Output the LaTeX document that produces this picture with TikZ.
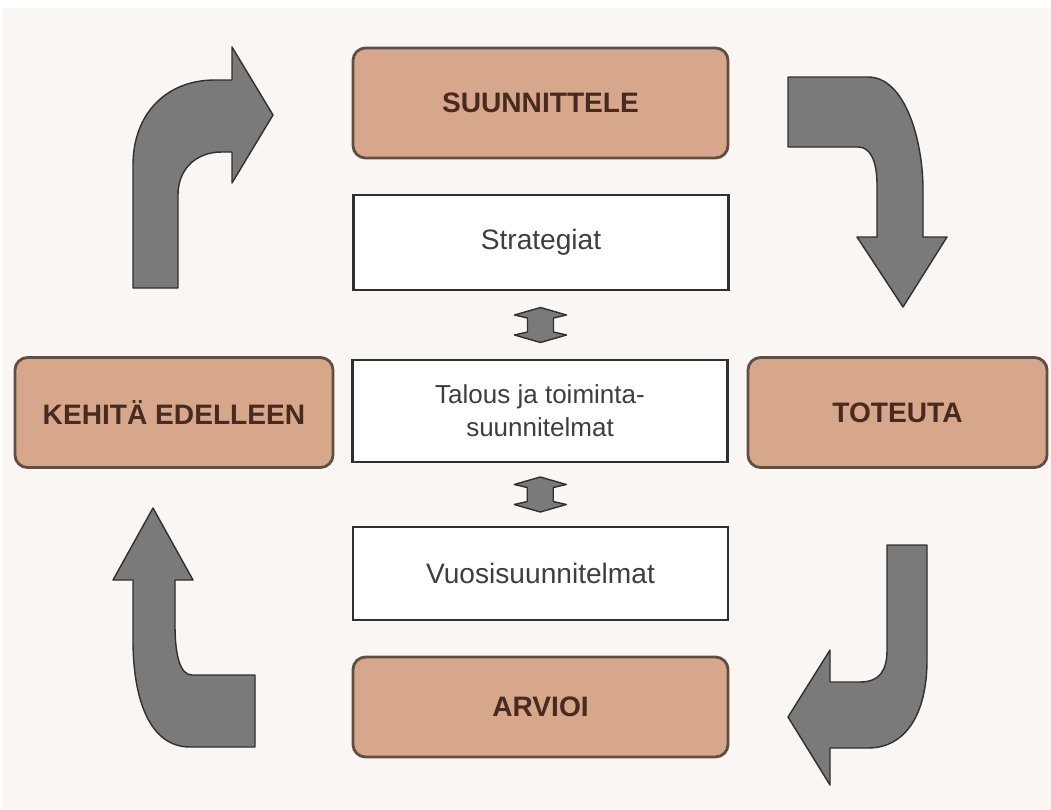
\documentclass[tikz,border=0pt]{standalone}
\usepackage{fontspec}
\setmainfont{Liberation Sans}
\usepackage{tikz}
\usetikzlibrary{calc, positioning}
\usepackage{xcolor}
\definecolor{paper}{RGB}{250,246,243}
\definecolor{tan}{RGB}{214,167,139}
\definecolor{tanline}{RGB}{95,78,68}
\definecolor{darktext}{RGB}{72,42,32}
\definecolor{greytext}{RGB}{62,62,62}
\definecolor{arrowfill}{RGB}{122,122,122}
\definecolor{arrowline}{RGB}{48,48,48}

\begin{document}
\begin{tikzpicture}[x=0.025cm, y=-0.025cm,
    phase/.style={draw=tanline, line width=2pt, fill=tan, rounded corners=9pt,
                  text=darktext, font=\fontsize{20}{24}\selectfont\bfseries,
                  minimum height=2.75cm, inner sep=0pt},
    plan/.style={draw=arrowline, line width=2pt, fill=white, text=greytext,
                 font=\fontsize{20}{24}\selectfont, minimum width=9.375cm,
                 inner sep=0pt, align=center},
    blockarrow/.style={draw=arrowline, line width=1pt, fill=arrowfill, line join=round}]
      %► Canvas and margins
      \fill[white] (0,0) rectangle (1051,809);
      \fill[paper] (2,8) rectangle (1051,809);
      \useasboundingbox (0,0) rectangle (1051,809);

      %► Cycle phases
      \node[phase, minimum width=9.375cm]  (suunnittele) at (540.5,103)   {SUUNNITTELE};
      \node[phase, minimum width=7.475cm]  (toteuta)     at (897.5,412.5) {TOTEUTA};
      \node[phase, minimum width=9.375cm, minimum height=2.5cm]
                                          (arvioi)      at (540.5,707)   {ARVIOI};
      \node[phase, minimum width=7.95cm]   (kehita)      at (174,412.5)   {KEHITÄ EDELLEEN};

      %► Planning levels
      \node[plan, minimum height=2.375cm] (strategiat) at (541,242.5) {Strategiat};
      \node[plan, minimum height=2.55cm, font=\fontsize{18.5}{23.5}\selectfont]
                                          (talous)     at (540,411)   {Talous ja toiminta-\\suunnitelmat};
      \node[plan, minimum height=2.325cm] (vuosi)      at (540.5,573.5) {Vuosisuunnitelmat};

      %► Two-way links between levels
      \foreach \a/\b in {strategiat/talous, talous/vuosi} {
        \coordinate (m) at ($(\a.south)!0.5!(\b.north)$);
        \draw[blockarrow] ($(m)+(0,-17.5)$) -- ++(26,7.5) -- ++(-13,3) -- ++(0,14)
              -- ++(13,3) -- ++(-26,7.5) -- ++(-26,-7.5) -- ++(13,-3)
              -- ++(0,-14) -- ++(-13,-3) -- cycle;
      }

      %► Curved arrows round the cycle
      % kehita -> suunnittele
      \draw[blockarrow] (133,288) -- (178,288) -- (178,195)
            .. controls (178,170) and (195,152) .. (222,152)
            -- (232,152) -- (232,183) -- (273,115) -- (232,47) -- (232,80) -- (215,80)
            .. controls (165,80) and (133,115) .. (133,165) -- cycle;
      % suunnittele -> toteuta
      \draw[blockarrow] (788,77) -- (868,77)
            .. controls (905,77) and (923,140) .. (923,190)
            -- (923,237) -- (947,237) -- (903,307) -- (857,237) -- (877,237) -- (877,185)
            .. controls (877,160) and (870,147) .. (858,147) -- (788,147) -- cycle;
      % toteuta -> arvioi
      \draw[blockarrow] (887,545) -- (927,545) -- (927,660)
            .. controls (927,715) and (905,748) .. (868,748)
            -- (830,748) -- (830,785) -- (788,717) -- (830,650) -- (830,682) -- (860,682)
            .. controls (880,682) and (887,670) .. (887,650) -- cycle;
      % arvioi -> kehita
      \draw[blockarrow] (153,508) -- (193,580) -- (175,580) -- (175,625)
            .. controls (175,655) and (180,675) .. (192,675)
            -- (255,675) -- (255,747) -- (190,747)
            .. controls (150,747) and (133,700) .. (133,640)
            -- (133,580) -- (113,580) -- cycle;
\end{tikzpicture}
\end{document}
